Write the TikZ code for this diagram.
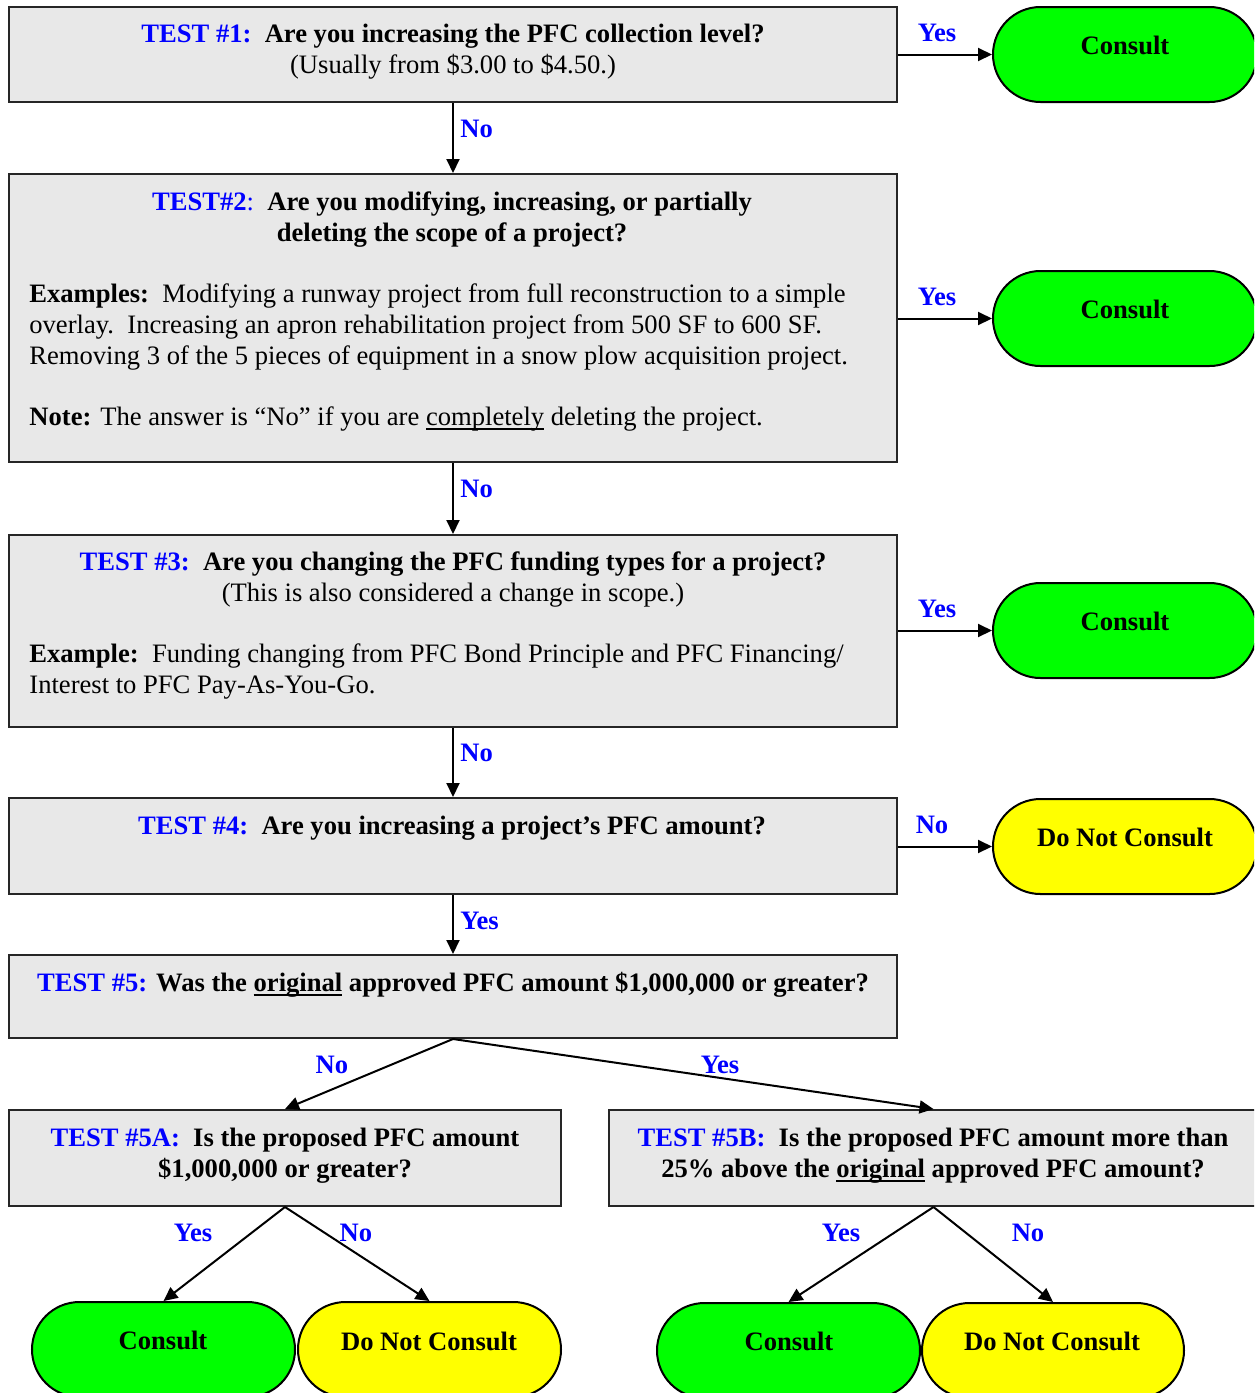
\documentclass[tikz,border=0pt]{standalone}
\usepackage{fontspec}
\setmainfont{Liberation Serif}
\usetikzlibrary{fit,arrows.meta}
\definecolor{boxgray}{HTML}{E8E8E8}
\definecolor{cgreen}{HTML}{00FF00}
\definecolor{cyellow}{HTML}{FFFF00}
\definecolor{tblue}{HTML}{0000FF}
\tikzset{
  qbox/.style={draw=black!85, line width=1pt, fill=boxgray, inner sep=0pt},
  pill/.style={draw=black, line width=1pt, inner sep=0pt, rounded corners=23.75pt},
  consultbox/.style={pill, fill=cgreen},
  dncbox/.style={pill, fill=cyellow},
  txt/.style={inner sep=0pt, anchor=base, font=\fontsize{13.3}{15.5}\selectfont},
  ltxt/.style={txt, anchor=base west},
  btxt/.style={txt, font=\fontsize{13.3}{15.5}\selectfont\bfseries},
  lbl/.style={inner sep=0pt, anchor=base, text=tblue, font=\fontsize{13.3}{15.5}\selectfont\bfseries},
  lbll/.style={lbl, anchor=base west},
  conn/.style={line width=1pt, -{Triangle[length=7pt,width=6.5pt]}}
}
\newcommand{\tl}[1]{\textcolor{tblue}{#1}}
\newcommand{\myul}[1]{\leavevmode\setbox0\hbox{#1}\rlap{\rule[-2.4pt]{\wd0}{0.85pt}}\box0\relax}
\begin{document}
\begin{tikzpicture}[x=0.5pt,y=-0.5pt]
\useasboundingbox (0,0) rectangle (1254,1393);
\clip (0,0) rectangle (1254,1393);
% boxes
\node[qbox, fit={(9,7)(897,102)}] (b1) {};
\node[qbox, fit={(9,174)(897,462)}] (b2) {};
\node[qbox, fit={(9,535)(897,727)}] (b3) {};
\node[qbox, fit={(9,798)(897,894)}] (b4) {};
\node[qbox, fit={(9,955)(897,1038)}] (b5) {};
\node[qbox, fit={(9,1110)(561,1206)}] (b5a) {};
\node[qbox, fit={(609,1110)(1258,1206)}] (b5b) {};
% outcomes
\node[consultbox, fit={(993,7)(1257,102)}] (c1) {};
\node[consultbox, fit={(993,271)(1257,366)}] (c2) {};
\node[consultbox, fit={(993,583)(1257,678)}] (c3) {};
\node[dncbox, fit={(993,799)(1257,894)}] (d4) {};
\node[consultbox, fit={(32,1302)(295,1397)}] (c5a) {};
\node[dncbox, fit={(298,1302)(561,1397)}] (d5a) {};
\node[consultbox, fit={(657,1303)(920,1398)}] (c5b) {};
\node[dncbox, fit={(922,1303)(1184,1398)}] (d5b) {};
% texts box 1
\node[btxt] (t1a) at (453,42) {\tl{TEST \#1:}\ \ Are you increasing the PFC collection level?};
\node[txt] (t1b) at (453,73) {(Usually from \$3.00 to \$4.50.)};
% box 2
\node[btxt] (t2a) at (452,210) {\tl{TEST\#2}\tl{\mdseries:}\ \ Are you modifying, increasing, or partially};
\node[btxt] (t2b) at (452,241) {deleting the scope of a project?};
\node[ltxt] (t2c) at (29,302) {\textbf{Examples:}\ \ Modifying a runway project from full reconstruction to a simple};
\node[ltxt] (t2d) at (29,333) {overlay.\ \ Increasing an apron rehabilitation project from 500 SF to 600 SF.};
\node[ltxt] (t2e) at (29,364) {Removing 3 of the 5 pieces of equipment in a snow plow acquisition project.};
\node[ltxt] (t2f) at (29,425) {\textbf{Note:} The answer is “No” if you are \myul{completely} deleting the project.};
% box 3
\node[btxt] (t3a) at (453,570) {\tl{TEST \#3:}\ \ Are you changing the PFC funding types for a project?};
\node[txt] (t3b) at (453,601) {(This is also considered a change in scope.)};
\node[ltxt] (t3c) at (29,662) {\textbf{Example:}\ \ Funding changing from PFC Bond Principle and PFC Financing/};
\node[ltxt] (t3d) at (29,693) {Interest to PFC Pay-As-You-Go.};
% box 4
\node[btxt] (t4a) at (452,834) {\tl{TEST \#4:}\ \ Are you increasing a project’s PFC amount?};
% box 5
\node[btxt] (t5a) at (453,991) {\tl{TEST \#5:} Was the \myul{original} approved PFC amount \$1,000,000 or greater?};
% box 5A
\node[btxt] (t5aa) at (285,1146) {\tl{TEST \#5A:}\ \ Is the proposed PFC amount};
\node[btxt] (t5ab) at (285,1177) {\$1,000,000 or greater?};
% box 5B
\node[btxt] (t5ba) at (933,1146) {\tl{TEST \#5B:}\ \ Is the proposed PFC amount more than};
\node[btxt] (t5bb) at (933,1177) {25\% above the \myul{original} approved PFC amount?};
% outcome texts
\node[btxt] (tc1) at (1125,54) {Consult};
\node[btxt] (tc2) at (1125,318) {Consult};
\node[btxt] (tc3) at (1125,630) {Consult};
\node[btxt] (td4) at (1125,846) {Do Not Consult};
\node[btxt] (tc5a) at (163,1349) {Consult};
\node[btxt] (td5a) at (429,1350) {Do Not Consult};
\node[btxt] (tc5b) at (789,1350) {Consult};
\node[btxt] (td5b) at (1052,1350) {Do Not Consult};
% connectors
\draw[conn] (b1.east |- c1.west) -- (c1.west);
\draw[conn] (b2.east |- c2.west) -- (c2.west);
\draw[conn] (b3.east |- c3.west) -- (c3.west);
\draw[conn] (b4.east |- d4.west) -- (d4.west);
\draw[conn] (b1.south) -- (b2.north);
\draw[conn] (b2.south) -- (b3.north);
\draw[conn] (b3.south) -- (b4.north);
\draw[conn] (b4.south) -- (b5.north);
\draw[conn] (b5.south) -- (b5a.north);
\draw[conn] (b5.south) -- (b5b.north);
\draw[conn] (b5a.south) -- (c5a.north);
\draw[conn] (b5a.south) -- (d5a.north);
\draw[conn] (b5b.south) -- (c5b.north);
\draw[conn] (b5b.south) -- (d5b.north);
% labels
\node[lbl] (y1) at (937,41) {Yes};
\node[lbl] (y2) at (937,305) {Yes};
\node[lbl] (y3) at (937,617) {Yes};
\node[lbl] (n4) at (932,833) {No};
\node[lbll] (n1) at (460,137) {No};
\node[lbll] (n2) at (460,497) {No};
\node[lbll] (n3) at (460,761) {No};
\node[lbll] (y4) at (460,929) {Yes};
\node[lbl] (n5) at (332,1073) {No};
\node[lbl] (y5) at (720,1073) {Yes};
\node[lbl] (y5a) at (193,1241) {Yes};
\node[lbl] (n5a) at (356,1241) {No};
\node[lbl] (y5b) at (841,1241) {Yes};
\node[lbl] (n5b) at (1028,1241) {No};
\end{tikzpicture}
\end{document}
